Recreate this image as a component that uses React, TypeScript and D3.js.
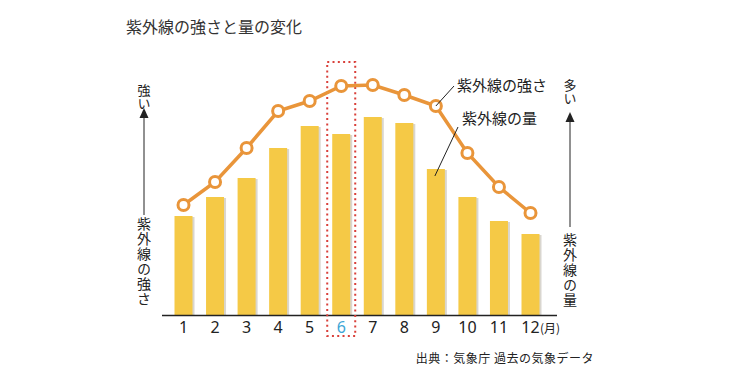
import React from "react";
import * as d3 from "d3";

const months = [1, 2, 3, 4, 5, 6, 7, 8, 9, 10, 11, 12];
const uvAmount = [99, 118, 137, 167, 189, 181, 198, 192, 146, 118, 94, 81];
const uvIntensity = [110, 133, 167, 204, 214, 229, 230, 220, 209, 162, 128, 102];
const tickLabels = ["1", "2", "3", "4", "5", "6", "7", "8", "9", "10", "11", "12"];
const highlightMonth = 6;
const labelMonth = 9;

const W = 750;
const H = 377;
const FONT = '"Noto Sans CJK JP", "Noto Sans", sans-serif';
const NUMFONT = '"Noto Sans", "Open Sans", sans-serif';

export default function App() {
  const x = d3.scaleLinear().domain([1, 12]).range([183.5, 530.5]);
  const y = d3.scaleLinear().domain([0, 200]).range([315, 115]);
  const barW = 18;
  const line = d3
    .line<number>()
    .x((_, i) => x(months[i]))
    .y((d) => y(d));

  const vText = (chars: string, cx: number, top: number, size: number, spacing: number) => (
    <text
      x={cx}
      y={top}
      fontSize={size}
      fill="#222"
      letterSpacing={spacing}
      style={{ fontFamily: FONT, writingMode: "vertical-rl" as any }}
    >
      {chars}
    </text>
  );

  const hx = x(highlightMonth);
  const lx = x(labelMonth);
  const li = months.indexOf(labelMonth);

  return (
    <svg
      width={W}
      height={H}
      style={{ position: "absolute", left: 0, top: 0, background: "#fff", fontFamily: FONT }}
    >
      <rect width={W} height={H} fill="#fff" />
      <text x={126} y={26} fontSize={16} fill="#333" dominantBaseline="central" style={{ fontFamily: FONT }}>
        紫外線の強さと量の変化
      </text>

      {months.map((m, i) => (
        <g key={m}>
          <rect
            x={x(m) - barW / 2 + 2}
            y={y(uvAmount[i]) + 1}
            width={barW}
            height={315 - y(uvAmount[i]) - 1}
            fill="#d9d6cf"
          />
          <rect
            x={x(m) - barW / 2}
            y={y(uvAmount[i])}
            width={barW}
            height={315 - y(uvAmount[i])}
            fill="#F5C946"
          />
        </g>
      ))}

      <line x1={162} x2={557} y1={315.5} y2={315.5} stroke="#222" strokeWidth={1.5} />

      <rect
        x={hx - 14}
        y={62}
        width={28}
        height={274}
        fill="none"
        stroke="#D9403A"
        strokeWidth={2}
        strokeDasharray="2 3.3"
      />

      <path d={line(uvIntensity) || ""} fill="none" stroke="#E9953A" strokeWidth={3.5} />
      {months.map((m, i) => (
        <circle
          key={m}
          cx={x(m)}
          cy={y(uvIntensity[i])}
          r={5.5}
          fill="#fff"
          stroke="#E9953A"
          strokeWidth={3}
        />
      ))}

      {months.map((m, i) => (
        <text
          key={m}
          x={x(m)}
          y={327}
          textAnchor="middle"
          dominantBaseline="central"
          fontSize={16}
          fill={m === highlightMonth ? "#3DA6D6" : "#222"}
          style={{ fontFamily: NUMFONT }}
        >
          {tickLabels[i]}
        </text>
      ))}
      <text x={540} y={327} dominantBaseline="central" fontSize={12} fill="#222" style={{ fontFamily: FONT }}>
        (月)
      </text>

      <line x1={454} y1={86} x2={lx} y2={y(uvIntensity[li])} stroke="#222" strokeWidth={1} />
      <text x={457} y={84} fontSize={15} fill="#222" dominantBaseline="central" style={{ fontFamily: FONT }}>
        紫外線の強さ
      </text>
      <line x1={458} y1={127} x2={lx - 1} y2={y(uvAmount[li]) + 7} stroke="#222" strokeWidth={1} />
      <text x={462} y={117} fontSize={15} fill="#222" dominantBaseline="central" style={{ fontFamily: FONT }}>
        紫外線の量
      </text>

      {vText("強い", 144, 84, 13, 0)}
      <path d="M144,108 L148.5,118 L139.5,118 Z" fill="#222" />
      <line x1={144} x2={144} y1={117} y2={215} stroke="#222" strokeWidth={1} />
      {vText("紫外線の強さ", 144, 217, 14, 1)}

      {vText("多い", 570, 79, 13, 0)}
      <path d="M570,112 L574.5,122 L565.5,122 Z" fill="#222" />
      <line x1={570} x2={570} y1={121} y2={227} stroke="#222" strokeWidth={1} />
      {vText("紫外線の量", 570, 233, 14, 1)}

      <text
        x={594}
        y={357}
        textAnchor="end"
        fontSize={12}
        fill="#222"
        dominantBaseline="central"
        letterSpacing={0.5}
        style={{ fontFamily: FONT }}
      >
        出典：気象庁 過去の気象データ
      </text>
    </svg>
  );
}
